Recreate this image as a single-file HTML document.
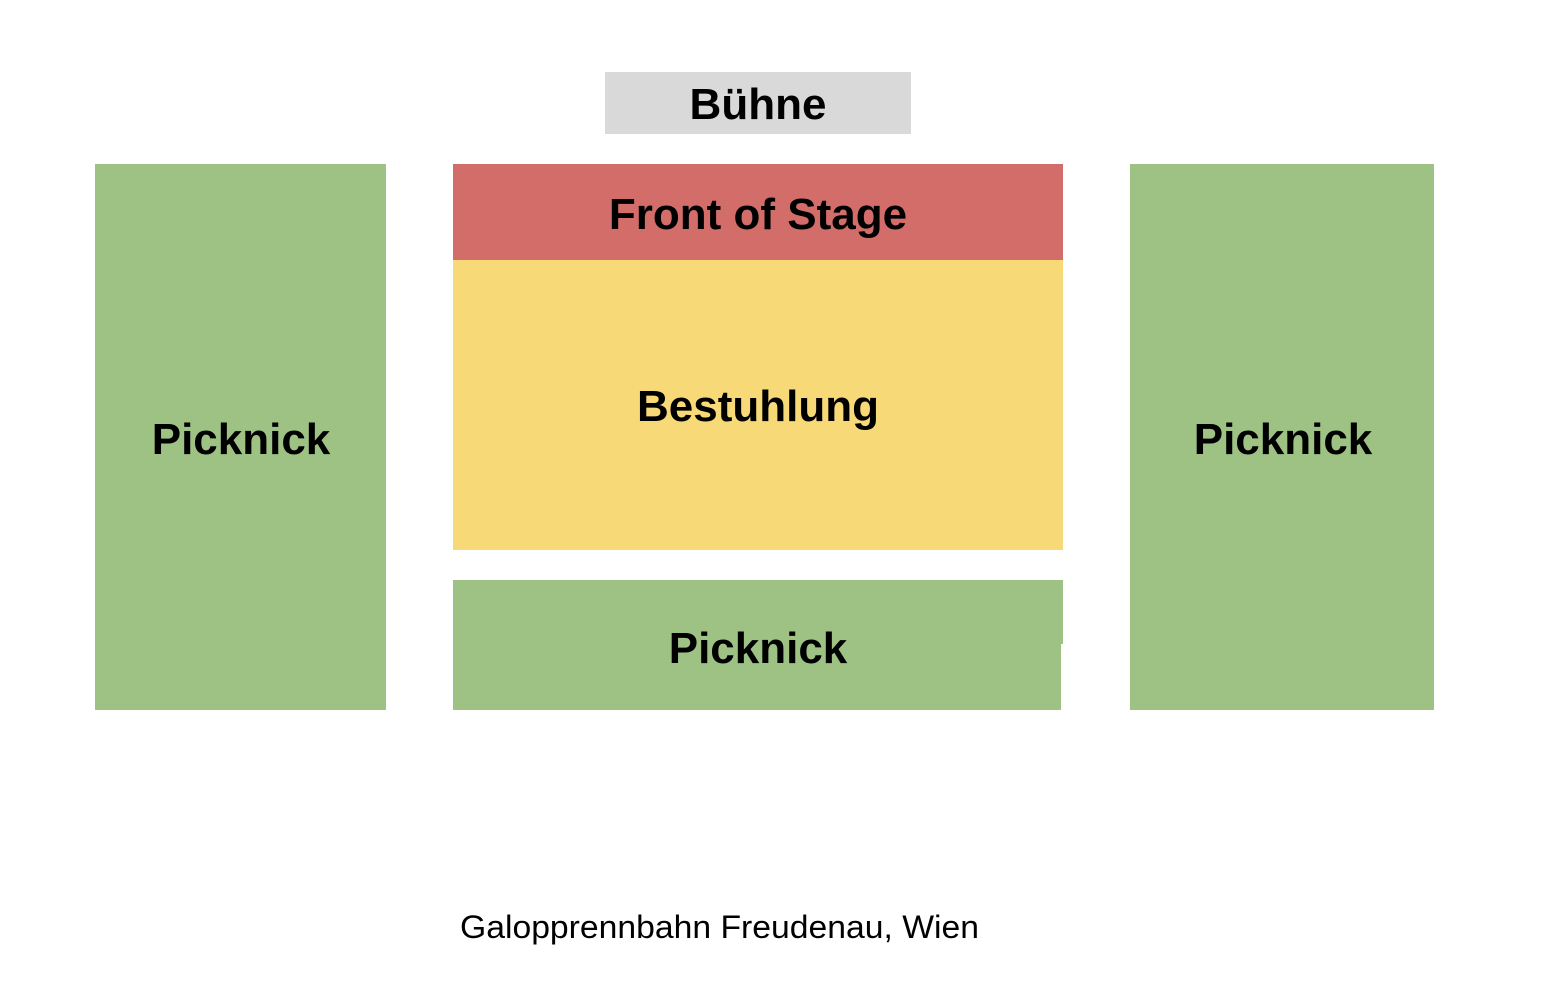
<!DOCTYPE html>
<html><head><meta charset="utf-8"><style>html,body{margin:0;padding:0;background:#fff}svg{display:block}</style></head>
<body>
<svg width="1546" height="988" viewBox="0 0 1546 988" xmlns="http://www.w3.org/2000/svg" font-family="Liberation Sans, Arial, sans-serif">
<rect x="605" y="72" width="306" height="62" fill="#d9d9d9"/>
<rect x="95" y="164" width="291" height="546" fill="#9dc284"/>
<rect x="1130" y="164" width="304" height="546" fill="#9dc284"/>
<rect x="453" y="164" width="610" height="96" fill="#d26d6a"/>
<rect x="453" y="260" width="610" height="290" fill="#f7d978"/>
<rect x="453" y="580" width="610" height="64" fill="#9dc284"/>
<rect x="453" y="644" width="608" height="66" fill="#9dc284"/>
<g font-weight="bold" font-size="44" text-anchor="middle" fill="#000">
<text x="758" y="119">Bühne</text>
<text x="758" y="229">Front of Stage</text>
<text x="758" y="421">Bestuhlung</text>
<text x="241" y="454">Picknick</text>
<text x="1283" y="454">Picknick</text>
<text x="758" y="663">Picknick</text>
</g>
<text x="460" y="938" font-size="32" textLength="519" lengthAdjust="spacingAndGlyphs" fill="#000">Galopprennbahn Freudenau, Wien</text>
</svg>
</body></html>
